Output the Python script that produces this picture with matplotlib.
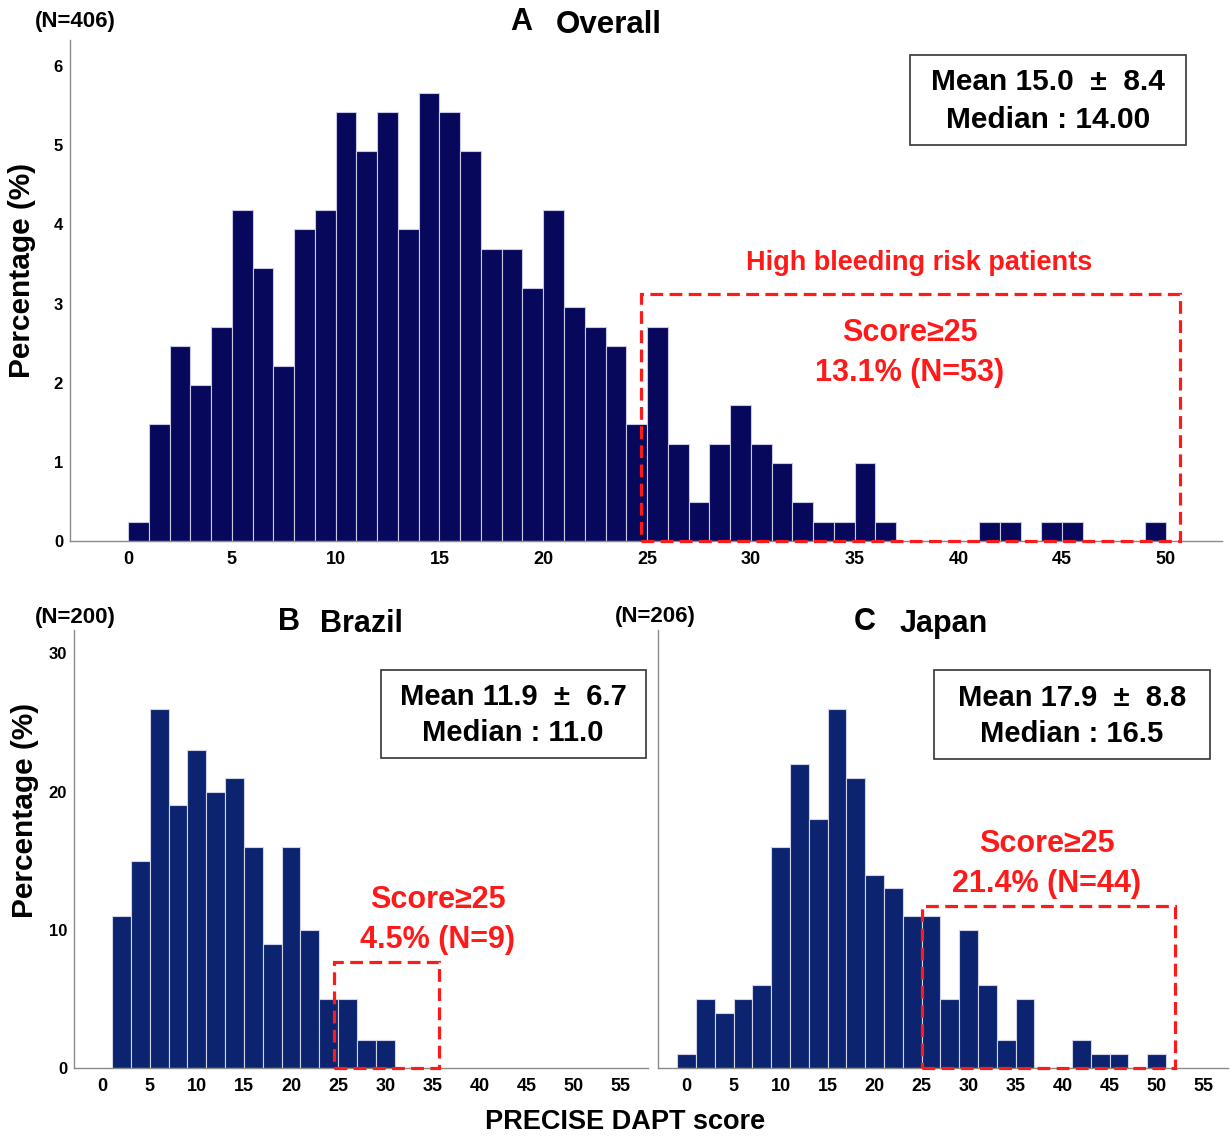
import numpy as np
import matplotlib
matplotlib.use('Agg')
import matplotlib.pyplot as plt
from matplotlib.patches import Rectangle

plt.rcParams['font.family'] = ['Liberation Sans', 'DejaVu Sans']
plt.rcParams['font.weight'] = 'bold'

# --- data (counts per score bin) ---
overall_n = 406
overall_bin_start = 0
overall_bin_width = 1
overall_counts = [1, 6, 10, 8, 11, 17, 14, 9, 16, 17,
                  22, 20, 22, 16, 23, 22, 20, 15, 15, 13,
                  17, 12, 11, 10, 6, 11, 5, 2, 5, 7,
                  5, 4, 2, 1, 1, 4, 1, 0, 0, 0,
                  0, 1, 1, 0, 1, 1, 0, 0, 0, 1]

brazil_n = 200
brazil_bin_start = 1
brazil_bin_width = 2
brazil_values = [11, 15, 26, 19, 23, 20, 21, 16, 9, 16, 10, 5, 5, 2, 2]

japan_n = 206
japan_bin_start = -1
japan_bin_width = 2
japan_values = [1, 5, 4, 5, 6, 16, 22, 18, 26, 21, 14, 13, 11,
                11, 5, 10, 6, 2, 5, 0, 0, 2, 1, 1, 0, 1]

overall_ticks = [0, 5, 10, 15, 20, 25, 30, 35, 40, 45, 50]
overall_yticks = [0, 1, 2, 3, 4, 5, 6]
country_ticks = [0, 5, 10, 15, 20, 25, 30, 35, 40, 45, 50, 55]
country_yticks = [0, 10, 20, 30]

W, H = 1230, 1136
fig = plt.figure(figsize=(W / 100, H / 100), dpi=100)

RED = '#ff1a1a'
NAVY_A = '#07075c'
NAVY_BC = '#0c2470'
SPINE = '#8a8a8a'


def px_axes(l, t, r, b):
    return fig.add_axes([l / W, 1 - b / H, (r - l) / W, (b - t) / H])


def ftext(x, y, s, **kw):
    kw.setdefault('ha', 'center')
    kw.setdefault('va', 'center')
    kw.setdefault('fontweight', 'bold')
    fig.text(x / W, 1 - y / H, s, **kw)


def px_box(l, t, r, b):
    fig.patches.append(Rectangle((l / W, 1 - b / H), (r - l) / W, (b - t) / H,
                                 transform=fig.transFigure, fill=True, fc='white',
                                 ec='#333333', lw=1.2, zorder=3))


def style(ax, xt, yt, ylabels=True, xfs=13, yfs=12):
    for side in ['top', 'right']:
        ax.spines[side].set_visible(False)
    for side in ['left', 'bottom']:
        ax.spines[side].set_color(SPINE)
        ax.spines[side].set_linewidth(1.0)
    ax.set_xticks(xt)
    ax.set_yticks(yt)
    ax.tick_params(length=0)
    ax.tick_params(axis='x', pad=7, labelsize=xfs)
    ax.tick_params(axis='y', pad=5, labelsize=yfs)
    if not ylabels:
        ax.set_yticklabels([])
    for lab in ax.get_xticklabels() + ax.get_yticklabels():
        lab.set_fontweight('bold')


def red_box(ax, x0, x1, y1):
    ax.add_patch(Rectangle((x0, 0), x1 - x0, y1, fill=False, ec=RED, lw=2.3,
                           ls=(0, (4, 2)), clip_on=False, zorder=5))


# ---------------- A: Overall ----------------
axA = px_axes(70, 40, 1222, 541)
pct = np.array(overall_counts) / overall_n * 100
left = overall_bin_start + overall_bin_width * np.arange(len(overall_counts))
axA.bar(left, pct, width=overall_bin_width, align='edge', color=NAVY_A,
        edgecolor='#c9c9e6', linewidth=0.8)
axA.set_xlim(-2.8, 52.7)
axA.set_ylim(0, 6.33)
style(axA, overall_ticks, overall_yticks)
red_box(axA, 24.7, 50.7, 3.12)

ftext(75, 22, '(N=406)', fontsize=16)
ftext(521, 22, 'A', fontsize=22)
ftext(556, 25, 'Overall', fontsize=22.5, ha='left')
ftext(22, 270, 'Percentage (%)', fontsize=21.5, rotation=90)
px_box(910, 55, 1186, 145)
ftext(1048, 101, 'Mean 15.0  \u00b1  8.4\nMedian : 14.00', fontsize=21.5,
      linespacing=1.45, zorder=4)
ftext(919, 263, 'High bleeding risk patients', fontsize=19.5, color=RED)
ftext(910, 353, 'Score\u226525\n13.1% (N=53)', fontsize=22, color=RED, linespacing=1.4)

# ---------------- B: Brazil ----------------
axB = px_axes(74, 630, 648, 1068)
leftB = brazil_bin_start + brazil_bin_width * np.arange(len(brazil_values))
axB.bar(leftB, brazil_values, width=brazil_bin_width, align='edge', color=NAVY_BC,
        edgecolor='#d0d4e8', linewidth=0.8)
axB.set_xlim(-3.04, 57.9)
axB.set_ylim(0, 31.7)
style(axB, country_ticks, country_yticks)
red_box(axB, 24.6, 35.7, 7.66)

ftext(75, 617, '(N=200)', fontsize=16)
ftext(289, 622, 'B', fontsize=22)
ftext(320, 624, 'Brazil', fontsize=22, ha='left')
ftext(25, 810, 'Percentage (%)', fontsize=21.5, rotation=90)
px_box(381, 670, 646, 758)
ftext(513, 715, 'Mean 11.9  \u00b1  6.7\nMedian : 11.0', fontsize=21,
      linespacing=1.4, zorder=4)
ftext(438, 920, 'Score\u226525\n4.5% (N=9)', fontsize=22, color=RED, linespacing=1.4)

# ---------------- C: Japan ----------------
axC = px_axes(658, 630, 1228, 1068)
leftC = japan_bin_start + japan_bin_width * np.arange(len(japan_values))
axC.bar(leftC, japan_values, width=japan_bin_width, align='edge', color=NAVY_BC,
        edgecolor='#d0d4e8', linewidth=0.8)
axC.set_xlim(-3.04, 57.6)
axC.set_ylim(0, 31.7)
style(axC, country_ticks, country_yticks, ylabels=False)
red_box(axC, 25.0, 52.0, 11.7)

ftext(655, 616, '(N=206)', fontsize=16)
ftext(865, 622, 'C', fontsize=22)
ftext(900, 624, 'Japan', fontsize=22, ha='left')
px_box(934, 670, 1210, 759)
ftext(1072, 716, 'Mean 17.9  \u00b1  8.8\nMedian : 16.5', fontsize=21,
      linespacing=1.4, zorder=4)
ftext(1047, 864, 'Score\u226525\n21.4% (N=44)', fontsize=22, color=RED, linespacing=1.4)

ftext(625, 1122, 'PRECISE DAPT score', fontsize=19.5)

fig.savefig('out.png', dpi=100)
